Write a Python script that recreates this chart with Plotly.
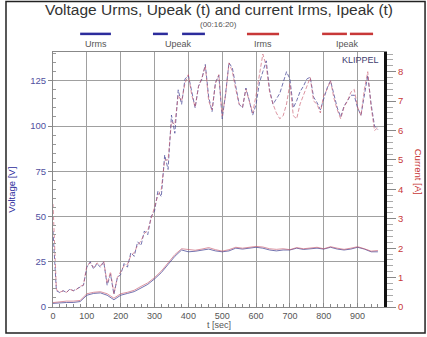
import plotly.graph_objects as go

# ---- measured quantities -------------------------------------------------
# peak values, sampled every 10 s
t_peak = list(range(0, 970, 10))
u_peak = [42, 9, 8, 9, 8, 10, 9, 10, 11, 12,
          22, 25, 21, 24, 22, 25, 12, 18, 7, 16,
          18, 24, 22, 30, 28, 36, 34, 42, 40, 50,
          53, 64, 61, 84, 76, 106, 96, 120, 112, 126,
          128, 118, 110, 122, 126, 134, 116, 108, 124, 128,
          104, 118, 135, 132, 122, 112, 110, 121, 114, 106,
          112, 124, 130, 136, 120, 112, 115, 118, 124, 130,
          126, 110, 114, 119, 122, 126, 127, 116, 113, 109,
          115, 121, 125, 118, 110, 105, 111, 114, 117, 117,
          110, 106, 118, 128, 112, 100, 98]
i_peak = [3.5, 0.6, 0.5, 0.55, 0.5, 0.6, 0.55, 0.6, 0.7, 0.75,
          1.4, 1.5, 1.35, 1.5, 1.4, 1.55, 0.8, 1.2, 0.45, 1.0,
          1.2, 1.4, 1.45, 1.75, 1.85, 2.1, 2.25, 2.5, 2.6, 3.0,
          3.4, 3.8, 4.0, 5.0, 5.0, 6.3, 6.2, 7.2, 7.0, 7.6,
          7.9, 7.2, 6.8, 7.5, 7.8, 8.2, 7.0, 6.7, 7.6, 7.9,
          6.5, 7.2, 8.3, 8.0, 7.4, 6.9, 6.8, 7.4, 7.0, 6.6,
          7.2, 7.9, 8.6, 8.2, 7.3, 6.9, 6.6, 6.4, 6.5, 6.9,
          7.6, 6.5, 6.4, 6.9, 7.2, 7.5, 7.8, 7.0, 6.9, 6.6,
          7.2, 7.4, 7.7, 7.1, 6.7, 6.4, 6.8, 7.0, 7.3, 7.4,
          6.8, 6.5, 7.4, 8.0, 6.8, 6.0, 6.1]

# rms values, sampled every 20 s
t_rms = list(range(0, 970, 20))
u_rms = [2, 2.4, 2.5, 2.5, 3, 6.5, 7.5, 7.8, 6.5, 4,
         6.5, 7.5, 8.5, 10.5, 12.5, 15.5, 19, 23.5, 28, 31.5,
         30.5, 30.8, 31.5, 32, 31, 30.5, 31, 32.5, 32, 32.5,
         33, 32.5, 31.5, 31, 31.5, 31.5, 32.5, 31.8, 32, 32.5,
         32, 33, 32, 31.5, 32, 33, 32, 30.5, 30.5]
i_rms = [0.15, 0.18, 0.2, 0.2, 0.22, 0.45, 0.5, 0.52, 0.45, 0.3,
         0.45, 0.5, 0.57, 0.7, 0.82, 1.0, 1.22, 1.5, 1.78, 1.98,
         1.95, 1.93, 1.97, 2.02, 1.95, 1.9, 1.95, 2.03, 2.0, 2.02,
         2.06, 2.04, 1.98, 1.96, 1.98, 1.95, 2.02, 1.98, 2.0, 2.03,
         1.98, 2.05, 2.0, 1.96, 2.0, 2.05, 1.98, 1.9, 1.92]

x_ticks = list(range(0, 1000, 100))
v_ticks = [0, 25, 50, 75, 100, 125]
a_ticks = [0, 1, 2, 3, 4, 5, 6, 7, 8]

FONT = "Liberation Sans, Arial, sans-serif"
BLUE = "#2c2c9c"
RED = "#c83838"
U_LINE = "rgba(70,70,150,0.75)"
I_LINE = "rgba(200,90,110,0.65)"
GRID = "#a0a0a0"

fig = go.Figure()
fig.add_trace(go.Scatter(x=t_rms, y=u_rms, mode="lines", name="Urms",
                         line=dict(color=U_LINE, width=1)))
fig.add_trace(go.Scatter(x=t_peak, y=u_peak, mode="lines", name="Upeak",
                         line=dict(color=U_LINE, width=1, dash="4px,2px")))
fig.add_trace(go.Scatter(x=t_rms, y=i_rms, mode="lines", name="Irms",
                         yaxis="y2", line=dict(color=I_LINE, width=1)))
fig.add_trace(go.Scatter(x=t_peak, y=i_peak, mode="lines", name="Ipeak",
                         yaxis="y2", line=dict(color=I_LINE, width=1, dash="4px,2px")))


def note(text, x, y, size, color, angle=0):
    return dict(text=text, xref="paper", yref="paper", x=x, y=y,
                xanchor="center", yanchor="middle", textangle=angle,
                showarrow=False, font=dict(size=size, color=color, family=FONT))


# legend drawn above the plot area: (label, colour, line segments in paper x)
legend_items = [
    ("Urms", BLUE, [(0.082, 0.175)]),
    ("Upeak", BLUE, [(0.302, 0.347), (0.390, 0.459)]),
    ("Irms", RED, [(0.586, 0.683)]),
    ("Ipeak", RED, [(0.813, 0.888), (0.897, 0.967)]),
]
shapes = []
annotations = []
for label, col, segs in legend_items:
    for x0, x1 in segs:
        shapes.append(dict(type="line", xref="paper", yref="paper",
                           x0=x0, x1=x1, y0=1.071, y1=1.071,
                           line=dict(color=col, width=2.5)))
    cx = (segs[0][0] + segs[-1][1]) / 2
    annotations.append(note(label, cx, 1.031, 9, "#555555"))

# outer frame
shapes.append(dict(type="rect", xref="paper", yref="paper",
                   x0=-0.142, x1=1.124, y0=-0.102, y1=1.198,
                   line=dict(color="#222222", width=1.5), layer="below"))

annotations += [
    note("Voltage Urms, Upeak (t) and current Irms, Ipeak (t)", 0.5, 1.165, 15.5, "#333333"),
    note("(00:16:20)", 0.5, 1.109, 8, "#555555"),
    note("Voltage [V]", -0.124, 0.46, 9.5, BLUE, -90),
    note("Current [A]", 1.103, 0.53, 9.5, RED, 90),
    note("t [sec]", 0.5, -0.072, 9, "#555555"),
    note("KLIPPEL", 0.93, 0.969, 9, "#404070"),
]

fig.update_layout(
    width=427, height=337, autosize=False,
    margin=dict(l=53, r=43, t=52, b=30),
    paper_bgcolor="white", plot_bgcolor="white",
    showlegend=False,
    font=dict(family=FONT, size=9, color="#555555"),
    xaxis=dict(range=[0, 978], tickvals=x_ticks, showgrid=True, gridcolor=GRID, gridwidth=1,
               showline=True, linecolor="#888888", linewidth=1, mirror=True,
               ticks="inside", ticklen=4, tickcolor="#888888",
               minor=dict(ticks="inside", ticklen=3, dtick=20, tickcolor="#888888"),
               tickfont=dict(size=9, color="#555555"), zeroline=False),
    yaxis=dict(range=[0, 140.9], tickvals=v_ticks, showgrid=True, gridcolor=GRID, gridwidth=1,
               showline=True, linecolor="#888888", linewidth=1,
               ticks="outside", ticklen=4, tickcolor="#888888",
               minor=dict(ticks="inside", ticklen=3, dtick=5, tickcolor="#999999"),
               tickfont=dict(size=9.5, color="#5050a0"), zeroline=False),
    yaxis2=dict(range=[0, 8.67], tickvals=a_ticks, overlaying="y", side="right",
                showgrid=False, zeroline=False,
                showline=True, linecolor="#111111", linewidth=3,
                ticks="outside", ticklen=9, tickcolor="#888888",
                minor=dict(ticks="outside", ticklen=6, dtick=0.2, tickcolor="#aaaaaa"),
                tickfont=dict(size=9.5, color=RED)),
    shapes=shapes,
    annotations=annotations,
)

fig.write_html("out.html")
